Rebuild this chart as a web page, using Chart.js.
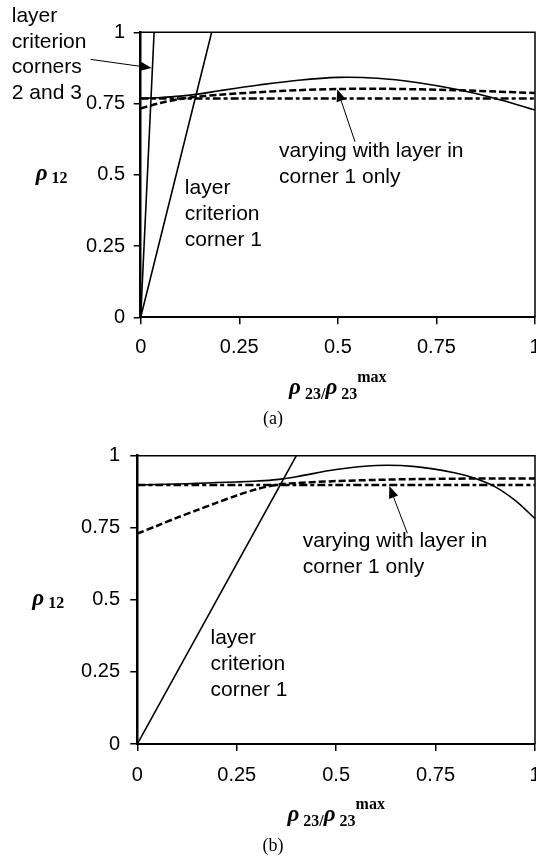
<!DOCTYPE html>
<html><head><meta charset="utf-8">
<script src="https://cdn.jsdelivr.net/npm/chart.js@4.4.1/dist/chart.umd.min.js"></script>
<style>
html,body{margin:0;padding:0;background:#fff;overflow:hidden;width:536px;height:858px;}
.wrap{position:absolute;left:0;width:536px;}
#wa{top:0;height:436px;}
#wb{top:436px;height:422px;}
canvas{display:block;}
</style></head><body>
<div class="wrap" id="wa"><canvas id="ca" width="536" height="436"></canvas></div>
<div class="wrap" id="wb"><canvas id="cb" width="536" height="422"></canvas></div>
<script>
// ---------- DATA ----------
const tickValues = [0, 0.25, 0.5, 0.75, 1];
const xTickLabels = ['0', '0.25', '0.5', '0.75', '1'];
const yTickLabels = ['0', '0.25', '0.5', '0.75', '1'];

// chart (a)
const xA = [0, 0.05, 0.1, 0.15, 0.2, 0.3, 0.4, 0.5, 0.6, 0.7, 0.8, 0.9, 1];
const solidA = [0.768, 0.771, 0.776, 0.784, 0.795, 0.815, 0.832, 0.842, 0.839, 0.824, 0.800, 0.768, 0.727];
const dashedA = [0.733, 0.752, 0.766, 0.775, 0.781, 0.790, 0.797, 0.801, 0.802, 0.800, 0.797, 0.792, 0.787];
const dashDotA = [0.768, 0.768, 0.768, 0.768, 0.768, 0.768, 0.768, 0.768, 0.768, 0.768, 0.768, 0.768, 0.768];
const corner23X = [0, 0.034];
const corner23Y = [0, 1];
const corner1AX = [0, 0.18];
const corner1AY = [0, 1];

// chart (b)
const xB = [0, 0.05, 0.1, 0.15, 0.2, 0.25, 0.3, 0.35, 0.4, 0.5, 0.6, 0.7, 0.8, 0.85, 0.9, 0.95, 1];
const solidB = [0.898, 0.900, 0.902, 0.904, 0.907, 0.909, 0.912, 0.917, 0.927, 0.952, 0.966, 0.962, 0.940, 0.921, 0.892, 0.845, 0.782];
const dashedB = [0.730, 0.757, 0.785, 0.811, 0.837, 0.862, 0.884, 0.899, 0.905, 0.912, 0.916, 0.919, 0.920, 0.921, 0.921, 0.921, 0.921];
const dashDotB = [0.898, 0.898, 0.898, 0.898, 0.898, 0.898, 0.898, 0.898, 0.898, 0.898, 0.898, 0.898, 0.898, 0.898, 0.898, 0.898, 0.898];
const corner1BX = [0, 0.4];
const corner1BY = [0, 1];

// annotation texts
const textCorners23 = ['layer', 'criterion', 'corners', '2 and 3'];
const textCorner1 = ['layer', 'criterion', 'corner 1'];
const textVarying = ['varying with layer in', 'corner 1 only'];

// ---------- STYLE ----------
const SANS = "'Liberation Sans', Arial, sans-serif";
const SERIF = "'Liberation Serif', 'Times New Roman', serif";

function pts(xs, ys) { return xs.map((x, i) => ({x: x, y: ys[i]})); }

function solid(data) {
  return {data, showLine: true, borderColor: '#000', borderWidth: 1.6, pointRadius: 0, tension: 0.35, fill: false};
}
function dashed(data, dash) {
  return {data, showLine: true, borderColor: '#000', borderWidth: 2.5, borderDash: dash, pointRadius: 0, tension: 0.3, fill: false};
}

function makeScales(cfg) {
  return {
    x: {
      type: 'linear', position: 'bottom', min: 0, max: 1,
      afterBuildTicks: s => { s.ticks = tickValues.map(v => ({value: v})); },
      ticks: {callback: (v) => xTickLabels[tickValues.indexOf(v)], font: {family: SANS, size: 20}, color: '#000',
              padding: cfg.xPad, maxRotation: 0, autoSkip: false},
      grid: {drawOnChartArea: false, drawTicks: true, tickLength: 7, color: '#000', lineWidth: 1.5},
      border: {display: true, color: '#000', width: 2},
      afterFit: s => { s.height = cfg.xHeight; s.paddingLeft = 0; s.paddingRight = 0; }
    },
    y: {
      type: 'linear', position: 'left', min: 0, max: 1,
      afterBuildTicks: s => { s.ticks = tickValues.map(v => ({value: v})); },
      ticks: {callback: (v) => yTickLabels[tickValues.indexOf(v)], font: {family: SANS, size: 20}, color: '#000',
              padding: cfg.yPad},
      grid: {drawOnChartArea: false, drawTicks: true, tickLength: 7, color: '#000', lineWidth: 1.5},
      border: {display: true, color: '#000', width: 2.5},
      afterFit: s => { s.width = cfg.yWidth; s.paddingTop = 0; s.paddingBottom = 0; }
    }
  };
}

function drawArrow(ctx, x1, y1, x2, y2) {
  ctx.save();
  ctx.strokeStyle = '#000'; ctx.fillStyle = '#000'; ctx.lineWidth = 1;
  const ang = Math.atan2(y2 - y1, x2 - x1);
  const L = 12, W = 4.8;
  const bx = x2 - L * Math.cos(ang), by = y2 - L * Math.sin(ang);
  ctx.beginPath(); ctx.moveTo(x1, y1); ctx.lineTo(bx, by); ctx.stroke();
  ctx.beginPath();
  ctx.moveTo(x2, y2);
  ctx.lineTo(bx + W * Math.sin(ang), by - W * Math.cos(ang));
  ctx.lineTo(bx - W * Math.sin(ang), by + W * Math.cos(ang));
  ctx.closePath(); ctx.fill();
  ctx.restore();
}

function drawRich(ctx, parts, x, y) {
  let cx = x;
  parts.forEach(p => {
    ctx.font = p.f;
    ctx.fillText(p.t, cx, y + p.dy);
    cx += ctx.measureText(p.t).width;
  });
}
function richWidth(ctx, parts) {
  let w = 0;
  parts.forEach(p => { ctx.font = p.f; w += ctx.measureText(p.t).width; });
  return w;
}

const RHO = 'italic bold 23px ' + SERIF;
const SUB = 'bold 16px ' + SERIF;

const decorPlugin = {
  id: 'decor',
  afterDatasetsDraw(chart) {
    const ctx = chart.ctx, a = chart.chartArea;
    ctx.save();
    ctx.strokeStyle = '#000'; ctx.lineWidth = 1.5;
    ctx.beginPath();
    ctx.moveTo(a.left, a.top); ctx.lineTo(a.right, a.top); ctx.lineTo(a.right, a.bottom);
    ctx.stroke();
    ctx.restore();
  },
  afterDraw(chart, args, opts) {
    const ctx = chart.ctx, a = chart.chartArea;
    const sx = chart.scales.x, sy = chart.scales.y;
    ctx.save();
    ctx.fillStyle = '#000';
    ctx.textAlign = 'left'; ctx.textBaseline = 'alphabetic';
    // annotation texts
    opts.texts.forEach(t => {
      const px = sx.getPixelForValue(t.x), py = sy.getPixelForValue(t.y);
      t.lines.forEach((ln, i) => { ctx.font = '21px ' + SANS; ctx.fillText(ln, px, py + i * 25.8); });
    });
    // arrows
    opts.arrows.forEach(r => {
      drawArrow(ctx, sx.getPixelForValue(r.from[0]), sy.getPixelForValue(r.from[1]),
                sx.getPixelForValue(r.to[0]), sy.getPixelForValue(r.to[1]));
    });
    // y title
    const mid = (a.top + a.bottom) / 2;
    drawRich(ctx, [{t: 'ρ', f: RHO, dy: 0}, {t: ' 12', f: SUB, dy: 3}], a.left - 105, mid + 5);
    // x title
    const xParts = [{t: 'ρ', f: RHO, dy: 0}, {t: ' 23/', f: SUB, dy: 5}, {t: 'ρ', f: RHO, dy: 0},
                    {t: ' 23', f: SUB, dy: 5}, {t: 'max', f: SUB, dy: -12}];
    const w = richWidth(ctx, xParts);
    drawRich(ctx, xParts, (a.left + a.right) / 2 - w / 2, a.bottom + 77);
    // caption
    ctx.font = '18px ' + SERIF; ctx.textAlign = 'center';
    ctx.fillText(opts.caption, 273, a.bottom + 107);
    ctx.restore();
  }
};

function makeChart(id, datasets, cfg, decor) {
  return new Chart(document.getElementById(id), {
    type: 'scatter',
    data: {datasets},
    options: {
      responsive: false, animation: false, devicePixelRatio: 1,
      layout: {padding: {top: cfg.top, left: 0, right: 1, bottom: 0}},
      plugins: {legend: {display: false}, tooltip: {enabled: false}, decor},
      scales: makeScales(cfg)
    },
    plugins: [decorPlugin]
  });
}

makeChart('ca', [
  solid(pts(corner23X, corner23Y)),
  solid(pts(corner1AX, corner1AY)),
  solid(pts(xA, solidA)),
  dashed(pts(xA, dashedA), [7, 3]),
  dashed(pts(xA, dashDotA), [8, 3, 4, 3])
], {top: 32.3, xHeight: 436 - 317.3, yWidth: 140.7, xPad: 11, yPad: 8.7}, {
  caption: '(a)',
  texts: [
    {lines: textCorners23, x: -0.327, y: 1.037},
    {lines: textCorner1, x: 0.112, y: 0.432},
    {lines: textVarying, x: 0.351, y: 0.5635}
  ],
  arrows: [
    {from: [-0.127, 0.905], to: [0.028, 0.875]},
    {from: [0.5435, 0.616], to: [0.4986, 0.80]}
  ]
});

makeChart('cb', [
  solid(pts(corner1BX, corner1BY)),
  solid(pts(xB, solidB)),
  dashed(pts(xB, dashedB), [7, 3]),
  dashed(pts(xB, dashDotB), [8, 3, 4, 3])
], {top: 455.7 - 436, xHeight: 422 - (744 - 436), yWidth: 137.3, xPad: 12.8, yPad: 10.3}, {
  caption: '(b)',
  texts: [
    {lines: textCorner1, x: 0.184, y: 0.347},
    {lines: textVarying, x: 0.416, y: 0.684}
  ],
  arrows: [
    {from: [0.679, 0.731], to: [0.6336, 0.895]}
  ]
});
</script></body></html>
